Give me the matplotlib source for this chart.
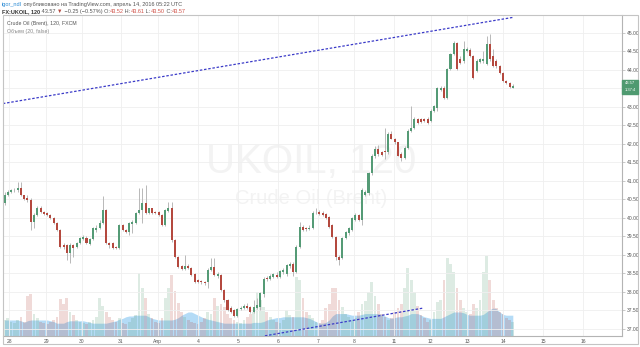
import matplotlib
matplotlib.use("Agg")
import matplotlib.pyplot as plt
from matplotlib.patches import Rectangle
import numpy as np

W, H = 640, 347

# =====================================================
# DATA  (FX:UKOIL, 120 min candles, 28 Mar - 14 Apr 2016)
# =====================================================

opens = [40.39, 40.63, 40.69, 40.74, 40.74, 40.80, 40.61, 40.53, 40.47, 39.88,
         40.07, 40.28, 40.15, 40.12, 40.07, 39.99, 39.85, 39.66, 39.26, 39.26,
         39.04, 39.26, 39.20, 39.31, 39.42, 39.45, 39.28, 39.42, 39.66, 39.72,
         39.85, 40.20, 39.31, 39.31, 39.20, 39.18, 39.80, 39.66, 39.61, 39.83,
         39.85, 40.12, 40.20, 40.39, 40.12, 40.26, 40.15, 40.15, 40.07, 39.80,
         40.18, 40.26, 39.39, 38.94, 38.69, 38.61, 38.69, 38.64, 38.48, 38.32,
         38.29, 38.26, 38.26, 38.58, 38.67, 38.42, 38.45, 38.05, 37.78, 37.56,
         37.51, 37.34, 37.53, 37.56, 37.61, 37.59, 37.45, 37.56, 37.59, 37.94,
         38.37, 38.34, 38.40, 38.45, 38.40, 38.53, 38.48, 38.69, 38.75, 38.53,
         39.20, 39.74, 39.72, 39.69, 39.72, 40.12, 40.15, 40.12, 40.10, 40.01,
         39.80, 39.47, 38.94, 38.91, 39.45, 39.58, 39.66, 39.93, 40.07, 39.93,
         40.61, 40.66, 41.20, 41.68, 41.87, 41.77, 41.82, 41.77, 42.28, 42.14,
         42.04, 41.74, 41.63, 41.90, 42.36, 42.44, 42.68, 42.66, 42.66, 42.68,
         42.63, 42.90, 42.98, 43.46, 43.52, 43.25, 44.03, 44.43, 44.73, 44.30,
         44.25, 44.51, 44.54, 44.38, 43.98, 44.22, 44.25, 44.16, 44.70, 44.38,
         44.25, 44.11, 43.92, 43.71, 43.65, 43.52]

closes = [40.63, 40.69, 40.74, 40.74, 40.80, 40.61, 40.50, 40.47, 39.88, 40.07,
          40.28, 40.15, 40.10, 40.07, 39.99, 39.85, 39.66, 39.20, 39.20, 39.04,
          39.26, 39.18, 39.31, 39.45, 39.47, 39.31, 39.42, 39.72, 39.72, 39.85,
          40.20, 39.31, 39.26, 39.18, 39.18, 39.80, 39.66, 39.61, 39.85, 39.88,
          40.12, 40.20, 40.39, 40.12, 40.26, 40.12, 40.12, 40.07, 39.80, 40.20,
          40.26, 39.39, 38.94, 38.67, 38.61, 38.69, 38.64, 38.45, 38.26, 38.26,
          38.26, 38.23, 38.58, 38.67, 38.45, 38.48, 38.05, 37.78, 37.51, 37.45,
          37.34, 37.53, 37.56, 37.61, 37.56, 37.45, 37.59, 37.64, 37.96, 38.34,
          38.34, 38.42, 38.48, 38.40, 38.56, 38.58, 38.72, 38.75, 38.53, 39.20,
          39.74, 39.66, 39.69, 39.72, 40.12, 40.12, 40.10, 40.07, 39.99, 39.74,
          39.47, 38.94, 38.85, 39.45, 39.61, 39.72, 39.99, 40.07, 39.93, 40.74,
          40.69, 41.20, 41.68, 41.87, 41.74, 41.71, 41.77, 42.28, 42.14, 42.04,
          41.68, 41.63, 41.90, 42.36, 42.44, 42.68, 42.57, 42.60, 42.63, 42.57,
          42.90, 43.03, 43.52, 43.52, 43.25, 44.03, 44.43, 44.73, 44.03, 44.19,
          44.57, 44.57, 44.38, 43.79, 44.25, 44.30, 44.30, 44.70, 44.30, 44.11,
          44.11, 43.92, 43.71, 43.65, 43.54, 43.57]

highs = [40.69, 40.74, 40.77, 40.80, 40.96, 40.98, 40.63, 40.61, 40.53, 40.12,
         40.31, 40.31, 40.18, 40.15, 40.10, 40.01, 39.88, 39.69, 39.31, 39.28,
         39.31, 39.28, 39.34, 39.47, 39.53, 39.50, 39.45, 39.74, 39.80, 39.93,
         40.58, 40.23, 39.36, 39.34, 39.23, 39.83, 39.83, 39.69, 39.88, 39.93,
         40.15, 40.82, 40.82, 40.88, 40.28, 40.28, 40.18, 40.18, 40.10, 40.23,
         40.44, 40.44, 39.42, 38.96, 38.72, 38.99, 38.75, 38.67, 38.50, 38.34,
         38.32, 38.29, 38.64, 38.91, 38.91, 38.53, 38.48, 38.07, 37.80, 37.61,
         37.53, 37.56, 37.61, 37.67, 37.69, 37.61, 37.78, 37.83, 37.99, 38.40,
         38.42, 38.48, 38.50, 38.53, 38.58, 38.64, 38.75, 38.80, 38.80, 39.26,
         39.88, 39.80, 39.74, 39.80, 40.18, 40.26, 40.20, 40.18, 40.12, 40.04,
         39.83, 39.50, 38.99, 39.47, 39.64, 39.74, 40.01, 40.12, 40.10, 40.80,
         40.74, 41.25, 41.74, 41.93, 41.96, 41.82, 42.44, 42.33, 42.36, 42.17,
         42.06, 41.77, 41.93, 42.39, 43.03, 42.74, 42.71, 42.71, 42.71, 42.74,
         42.93, 43.06, 43.54, 43.57, 43.57, 44.06, 44.46, 44.78, 44.76, 44.38,
         44.78, 44.62, 44.59, 44.41, 44.30, 44.33, 44.51, 44.92, 44.97, 44.57,
         44.30, 44.14, 43.95, 43.73, 43.68, 43.61]

lows = [40.34, 40.58, 40.66, 40.69, 40.71, 40.58, 40.47, 40.44, 39.66, 39.72,
        40.04, 40.12, 40.07, 40.04, 39.96, 39.83, 39.64, 39.18, 39.15, 38.85,
        38.77, 38.94, 39.18, 39.28, 39.39, 39.28, 39.26, 39.39, 39.61, 39.69,
        39.83, 39.28, 39.18, 39.15, 39.15, 39.15, 39.64, 39.58, 39.53, 39.58,
        39.83, 40.10, 39.85, 40.10, 40.10, 40.10, 40.10, 40.04, 39.77, 39.77,
        40.15, 39.36, 38.91, 38.64, 38.58, 38.58, 38.61, 38.42, 38.23, 38.23,
        38.21, 38.18, 38.10, 38.56, 38.42, 38.37, 38.02, 37.72, 37.48, 37.42,
        37.32, 37.32, 37.51, 37.53, 37.53, 37.42, 37.42, 37.53, 37.51, 37.86,
        38.29, 38.32, 38.37, 38.37, 38.37, 38.48, 38.42, 38.64, 38.42, 38.50,
        39.18, 39.64, 39.64, 39.66, 39.69, 40.10, 40.07, 40.04, 39.96, 39.72,
        39.45, 38.85, 38.72, 38.88, 39.42, 39.55, 39.64, 39.91, 39.91, 39.80,
        40.58, 40.61, 41.15, 41.63, 41.68, 41.66, 41.60, 41.74, 42.12, 42.01,
        41.66, 41.55, 41.60, 41.87, 42.33, 42.39, 42.55, 42.57, 42.60, 42.55,
        42.60, 42.87, 42.90, 43.44, 43.22, 43.22, 44.00, 44.41, 44.00, 44.16,
        44.19, 44.49, 44.35, 43.76, 43.95, 44.19, 44.19, 44.14, 44.25, 44.08,
        44.05, 43.90, 43.68, 43.62, 43.52, 43.50]

volumes = [20, 22, 18, 16, 20, 24, 18, 50, 52, 28,
           22, 18, 16, 15, 18, 20, 24, 46, 40, 48,
           30, 26, 20, 18, 16, 15, 18, 20, 24, 48,
           38, 30, 24, 20, 18, 22, 16, 15, 18, 22,
           26, 79, 60, 48, 28, 22, 18, 16, 22, 48,
           60, 76, 56, 41, 30, 24, 20, 18, 16, 15,
           18, 22, 30, 28, 47, 38, 40, 36, 28, 22,
           20, 18, 16, 20, 24, 28, 30, 55, 45, 36,
           30, 24, 20, 18, 16, 20, 32, 26, 24, 74,
           70, 48, 30, 26, 22, 18, 16, 20, 35, 40,
           60, 60, 45, 36, 28, 24, 20, 22, 30, 40,
           44, 55, 68, 50, 40, 28, 24, 20, 22, 30,
           35, 40, 60, 85, 70, 55, 38, 26, 22, 18,
           20, 30, 42, 45, 70, 97, 90, 80, 60, 45,
           35, 30, 28, 40, 35, 45, 80, 100, 70, 45,
           35, 30, 28, 22, 20, 18]

vol_ma = [20, 20, 20, 20, 20, 19, 17, 19, 20, 20,
          20, 20, 20, 20, 19, 18, 16, 16, 16, 18,
          19, 19, 19, 19, 19, 18, 17, 16, 16, 16,
          16, 16, 17, 18, 19, 21, 22, 24, 25, 25,
          26, 26, 26, 26, 24, 22, 21, 20, 20, 20,
          20, 20, 21, 23, 26, 28, 30, 30, 28, 26,
          24, 22, 21, 20, 19, 18, 17, 16, 16, 16,
          16, 16, 16, 16, 16, 16, 17, 17, 17, 18,
          20, 21, 22, 23, 23, 24, 24, 24, 24, 24,
          24, 24, 23, 22, 20, 18, 16, 16, 17, 20,
          25, 28, 28, 28, 28, 27, 26, 26, 26, 27,
          28, 28, 28, 28, 28, 27, 25, 23, 22, 23,
          24, 24, 25, 26, 28, 28, 28, 26, 24, 23,
          22, 22, 22, 22, 24, 26, 28, 30, 30, 30,
          29, 27, 26, 26, 26, 26, 27, 30, 33, 35,
          34, 30, 27, 26, 26, 26]

day_pos = [1.4, 12.7, 23.6, 35.5, 46.8, 59.0, 71.2, 83.4, 95.6, 106.6,
           118.8, 130.0, 141.0, 152.0, 164.2, 176.4]
day_labels = ["28", "29", "30", "31", "Апр", "4", "5", "6", "7", "8",
              "11", "12", "13", "14", "15", "16"]
price_ticks = np.arange(37.0, 45.01, 0.5)

# trend lines drawn by the author (bar index, price)
trend_hi_x = [-0.5, 155.0]
trend_hi_y = [43.09, 45.42]
trend_lo_x = [79.4, 127.6]
trend_lo_y = [36.81, 37.56]

last_price = 43.57

# =====================================================
# STYLE
# =====================================================

UP = "#559b76"
DOWN = "#b4493f"
WICK = "#b8b8b8"
FRAME = "#b4b4b4"
plt.rcParams["font.family"] = ["Liberation Sans", "DejaVu Sans"]

# =====================================================
# FIGURE / AXES
# =====================================================

fig = plt.figure(figsize=(W / 100, H / 100), dpi=100)
renderer = fig.canvas.get_renderer()

left, right, top, bottom = 3, 622, 15, 336
ax = fig.add_axes([left / W, 1 - bottom / H, (right - left) / W, (bottom - top) / H])
ax2 = ax.twinx()
ax.set_zorder(2)
ax.patch.set_visible(False)
ax2.set_zorder(1)
ax2.patch.set_visible(False)
ax2.axis("off")

idx = np.arange(len(opens))
o = np.array(opens)
c = np.array(closes)
up = c >= o

# volume + MA area
vcol = np.where(up, UP, DOWN)
ax2.fill_between(idx, 0, vol_ma, color="#acd8f6", alpha=0.9, linewidth=0, zorder=1)
ax2.bar(idx, volumes, width=0.85, color=vcol, alpha=0.2, linewidth=0, zorder=2)
ax2.set_ylim(0, 401)

# candles
ax.vlines(idx, lows, highs, color=WICK, linewidth=0.7, zorder=3)
body_h = np.maximum(np.abs(c - o), 0.012)
ax.bar(idx, body_h, bottom=np.minimum(o, c), width=0.62,
       color=np.where(up, UP, DOWN), linewidth=0, zorder=4)

# trend lines
ax.plot(trend_hi_x, trend_hi_y, color="#3b3bc8", linewidth=0.9,
        dashes=(2.0, 1.4), zorder=5)
ax.plot(trend_lo_x, trend_lo_y, color="#3b3bc8", linewidth=0.9,
        dashes=(2.0, 1.4), zorder=5)

ax.set_xlim(-0.46, 188.3)
ax.set_ylim(36.806, 45.485)

# the 43.50 label sits under the last-price marker in the original
ax.set_yticks(price_ticks)
ax.set_yticklabels(["" if abs(p - last_price) < 0.25 else "%.2f" % p
                    for p in price_ticks])
ax.yaxis.tick_right()
ax.tick_params(axis="y", length=2, width=0.5, color=FRAME, labelsize=3.6,
               pad=1.2, labelcolor="#555555")
ax.set_xticks(day_pos)
ax.set_xticklabels(day_labels)
ax.tick_params(axis="x", length=0, labelsize=3.6, pad=2.2, labelcolor="#555555")

ax.grid(True, color="#efefef", linewidth=0.6)
ax.set_axisbelow(True)
for s in ["left", "top"]:
    ax.spines[s].set_visible(False)
for s in ["right", "bottom"]:
    ax.spines[s].set_color(FRAME)
    ax.spines[s].set_linewidth(0.8)

# outer frame
fig.patches.append(Rectangle((2.5 / W, 1 - 344 / H), 635 / W, 329.5 / H,
                             transform=fig.transFigure, fill=False,
                             edgecolor="#c4c4c4", linewidth=0.8, zorder=6))

# last price label
fig.patches.append(Rectangle((622 / W, 1 - 94 / H), 16 / W, 14 / H,
                             transform=fig.transFigure, color="#4f9a70", zorder=7))
fig.text(630 / W, 1 - 83.2 / H, "%.2f" % last_price, color="white", fontsize=3.0,
         ha="center", va="center", zorder=8)
fig.text(630 / W, 1 - 90.2 / H, "1:37:4", color="white", fontsize=3.0,
         ha="center", va="center", zorder=8)

# watermark
fig.text(311 / W, 1 - 162 / H, "UKOIL, 120", fontsize=29, color="#f3f3f3",
         ha="center", va="center", zorder=-1)
fig.text(311 / W, 1 - 199 / H, "Crude Oil (Brent)", fontsize=14.5, color="#f3f3f3",
         ha="center", va="center", zorder=-1)


def text_runs(x, y, runs, size):
    for s, color, weight in runs:
        t = fig.text(x / W, 1 - y / H, s, fontsize=size, color=color,
                     fontweight=weight, ha="left", va="center", zorder=9)
        x += t.get_window_extent(renderer=renderer).width


# header
text_runs(2, 4.5, [("igor_ndl", "#2a8ad4", "normal"),
                   (" опубликовано на TradingView.com, апрель 14, 2016 05:22 UTC",
                    "#555555", "normal")], 4.0)
text_runs(2, 11.5, [("FX:UKOIL, 120", "#333333", "bold"),
                    (" 43.57 ", "#555555", "normal"),
                    ("▼", DOWN, "normal"),
                    (" −0.25 (−0.57%) O:", "#555555", "normal"),
                    ("43.52", "#d0534a", "normal"),
                    (" H:", "#555555", "normal"),
                    ("43.61", "#d0534a", "normal"),
                    (" L:", "#555555", "normal"),
                    ("43.50", "#d0534a", "normal"),
                    (" C:", "#555555", "normal"),
                    ("43.57", "#d0534a", "normal")], 4.0)

# legend inside pane
fig.text(7 / W, 1 - 24 / H, "Crude Oil (Brent), 120, FXCM", fontsize=3.8,
         color="#555555", ha="left", va="center", zorder=9)
fig.text(7 / W, 1 - 32 / H, "Объем (20, false)", fontsize=3.8,
         color="#888888", ha="left", va="center", zorder=9)

fig.savefig("out.png", dpi=100)
